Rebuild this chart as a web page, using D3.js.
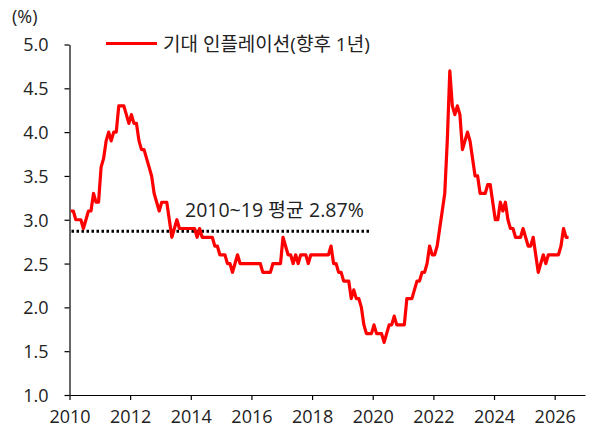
<!DOCTYPE html>
<html>
<head>
<meta charset="utf-8">
<script src="https://cdn.jsdelivr.net/npm/d3@7"></script>
<style>
  body { margin: 0; background: #fff; }
  text { font-family: "Open Sans", "Noto Sans CJK KR", sans-serif; fill: #222; }
</style>
</head>
<body>
<script>
// monthly expected inflation (1yr ahead), Jan 2010 onward
const startYear = 2010
const inflation = [
  3.1, 3.1, 3.0, 3.0, 3.0, 2.9, 3.0, 3.1, 3.1, 3.3, 3.2, 3.2, // 2010
  3.6, 3.7, 3.9, 4.0, 3.9, 4.0, 4.0, 4.3, 4.3, 4.3, 4.2, 4.1, // 2011
  4.2, 4.1, 4.1, 3.9, 3.8, 3.8, 3.7, 3.6, 3.5, 3.3, 3.2, 3.1, // 2012
  3.2, 3.2, 3.2, 3.0, 2.8, 2.9, 3.0, 2.9, 2.9, 2.9, 2.9, 2.9, // 2013
  2.9, 2.9, 2.8, 2.9, 2.8, 2.8, 2.8, 2.8, 2.8, 2.7, 2.7, 2.6, // 2014
  2.6, 2.6, 2.5, 2.5, 2.4, 2.5, 2.6, 2.5, 2.5, 2.5, 2.5, 2.5, // 2015
  2.5, 2.5, 2.5, 2.5, 2.4, 2.4, 2.4, 2.4, 2.5, 2.5, 2.5, 2.5, // 2016
  2.8, 2.7, 2.6, 2.6, 2.5, 2.6, 2.5, 2.6, 2.6, 2.6, 2.5, 2.6, // 2017
  2.6, 2.6, 2.6, 2.6, 2.6, 2.6, 2.6, 2.7, 2.5, 2.5, 2.4, 2.4, // 2018
  2.3, 2.3, 2.3, 2.1, 2.2, 2.1, 2.1, 2.0, 1.8, 1.7, 1.7, 1.7, // 2019
  1.8, 1.7, 1.7, 1.7, 1.6, 1.7, 1.8, 1.8, 1.9, 1.8, 1.8, 1.8, // 2020
  1.8, 2.1, 2.1, 2.1, 2.2, 2.3, 2.3, 2.4, 2.4, 2.5, 2.7, 2.6, // 2021
  2.6, 2.7, 2.9, 3.1, 3.3, 3.9, 4.7, 4.3, 4.2, 4.3, 4.2, 3.8, // 2022
  3.9, 4.0, 3.9, 3.7, 3.5, 3.5, 3.3, 3.3, 3.3, 3.4, 3.4, 3.2, // 2023
  3.0, 3.0, 3.2, 3.1, 3.2, 3.0, 2.9, 2.9, 2.8, 2.8, 2.8, 2.9, // 2024
  2.8, 2.7, 2.7, 2.8, 2.6, 2.4, 2.5, 2.6, 2.5, 2.6, 2.6, 2.6, // 2025
  2.6, 2.6, 2.7, 2.9, 2.8, 2.8                                // 2026
]
const avgValue = 2.87
const avgRange = [2010, 2020]
const avgLabel = '2010~19 평균 2.87%'
const seriesName = '기대 인플레이션(향후 1년)'
const xTicks = [2010, 2012, 2014, 2016, 2018, 2020, 2022, 2024, 2026]
const yTicks = [1.0, 1.5, 2.0, 2.5, 3.0, 3.5, 4.0, 4.5, 5.0]

const w = 596, h = 429

const svg = d3.select('body')
  .append('svg')
  .attr('width', w)
  .attr('height', h)

const x = d3.scaleLinear().domain([2010, 2027]).range([69.5, 585])
const y = d3.scaleLinear().domain([1, 5]).range([395, 44.5])

const data = inflation.map((v, i) => ({ t: startYear + (i + 0.5) / 12, v: v }))

// axes
const xAxis = svg.append('g')
  .attr('transform', `translate(0,${y(1)})`)
  .call(d3.axisBottom(x).tickValues(xTicks).tickFormat(d3.format('d'))
    .tickSize(5).tickSizeOuter(0).tickPadding(10))
const yAxis = svg.append('g')
  .attr('transform', `translate(${x(2010)},0)`)
  .call(d3.axisLeft(y).tickValues(yTicks).tickFormat(d3.format('.1f'))
    .tickSize(5).tickSizeOuter(0).tickPadding(16))

svg.selectAll('.domain, .tick line').attr('stroke', '#000').attr('stroke-width', 1.2)
svg.selectAll('.tick text').attr('font-size', 18)
yAxis.selectAll('.tick text').attr('dy', '0.36em')
svg.selectAll('g').attr('font-family', null)

// unit label
svg.append('text')
  .attr('x', 12).attr('y', 23)
  .attr('font-size', 18)
  .text('(%)')

// average dotted line
svg.append('line')
  .attr('x1', x(avgRange[0]) + 2).attr('x2', x(avgRange[1]) - 3)
  .attr('y1', y(avgValue)).attr('y2', y(avgValue))
  .attr('stroke', '#000')
  .attr('stroke-width', 3)
  .attr('stroke-dasharray', '2.5,2.5')

svg.append('text')
  .attr('x', 185).attr('y', 217)
  .attr('font-size', 19.5)
  .text(avgLabel)

// series line
svg.append('path')
  .datum(data)
  .attr('fill', 'none')
  .attr('stroke', '#ff0000')
  .attr('stroke-width', 3.2)
  .attr('stroke-linejoin', 'round')
  .attr('d', d3.line().x(d => x(d.t)).y(d => y(d.v)))

// legend
svg.append('line')
  .attr('x1', 106).attr('x2', 157)
  .attr('y1', 43.5).attr('y2', 43.5)
  .attr('stroke', '#ff0000')
  .attr('stroke-width', 3)
svg.append('text')
  .attr('x', 163).attr('y', 50.5)
  .attr('font-size', 19)
  .text(seriesName)
</script>
</body>
</html>
